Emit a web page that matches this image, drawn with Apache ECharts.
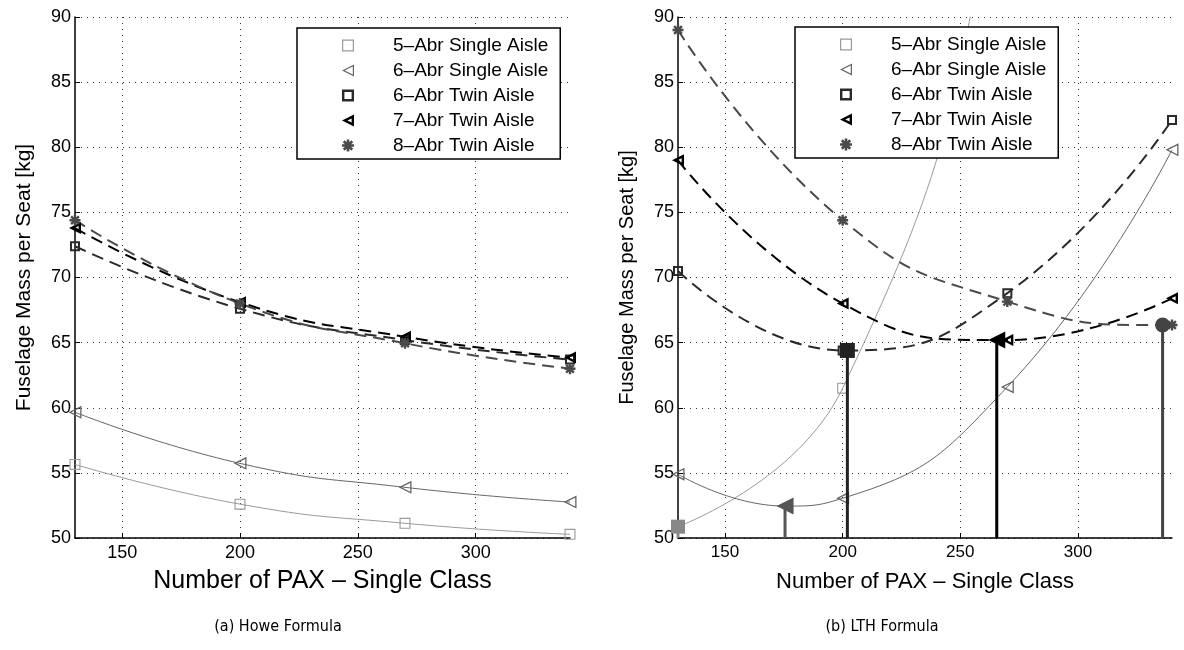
<!DOCTYPE html>
<html><head><meta charset="utf-8">
<script src="https://cdn.jsdelivr.net/npm/echarts@6/dist/echarts.min.js"></script>
<style>html,body{margin:0;padding:0;background:#fff}#c{width:1184px;height:650px}</style>
</head><body><div id="c"></div>
<script>
// ---------- data ----------
const pax = [130, 200, 270, 340];
const seriesNames = ['5\u2013Abr Single Aisle', '6\u2013Abr Single Aisle', '6\u2013Abr Twin Aisle', '7\u2013Abr Twin Aisle', '8\u2013Abr Twin Aisle'];
// (a) Howe formula
const howe5SA = [55.65, 52.6, 51.13, 50.28];
const howe6SA = [59.65, 55.73, 53.89, 52.76];
const howe6TA = [72.4, 67.6, 65.2, 63.7];
const howe7TA = [73.8, 68.1, 65.45, 63.85];
const howe8TA = [74.4, 68.0, 64.95, 63.0];
// (b) LTH formula
const lth5SA = [50.87, 61.5, 104, 178];
const lth6SA = [54.9, 53.05, 61.6, 79.8];
const lth6TA = [70.5, 64.4, 68.8, 82.1];
const lth7TA = [79.0, 68.0, 65.2, 68.4];
const lth8TA = [89.0, 74.4, 68.15, 66.35];
// LTH minima (stems, also points of the fitted curves)
const minPax  = [130, 175.5, 202, 265.5, 336];
const minMass = [50.87, 52.45, 64.4, 65.2, 66.35];
// axes
const xTicks = [150, 200, 250, 300];
const xMin = 130, xMax = 340;
const yMin = 50, yMax = 90, yStep = 5;
const captions = ['(a) Howe Formula', '(b) LTH Formula'];
const yName = 'Fuselage Mass per Seat [kg]';
const xName = 'Number of PAX \u2013 Single Class';

// ---------- symbols ----------
const SQ_THIN = 'path://M0,0L10,0L10,10L0,10Z M1,1L1,9L9,9L9,1Z';
const SQ_THICK = 'path://M0,0L10,0L10,10L0,10Z M2,2L2,8L8,8L8,2Z';
const TRI_THIN = 'path://M0,5L10,0L10,10Z M2.24,5L9,8.38L9,1.62Z';
const TRI_THICK = 'path://M0,5L10,0L10,10Z M4.47,5L8,6.76L8,3.24Z';
const ASTER = 'path://M-5,-1.1L5,-1.1L5,1.1L-5,1.1Z M-1.1,-5L1.1,-5L1.1,5L-1.1,5Z M-2.76,-4.31L4.31,2.76L2.76,4.31L-4.31,-2.76Z M-4.31,2.76L2.76,-4.31L4.31,-2.76L-2.76,4.31Z';
const TRI_FILL = 'path://M0,5L10,0L10,10Z';
const SQ_FILL = 'path://M0,0L10,0L10,10L0,10Z';

const DASH = [12, 7];
const styles = [
  {color: '#9a9a9a', type: 'solid', width: 1, symbol: SQ_THIN, size: 11},
  {color: '#666666', type: 'solid', width: 1, symbol: TRI_THIN, size: 13},
  {color: '#2a2a2a', type: DASH, width: 2, symbol: SQ_THICK, size: 10},
  {color: '#000000', type: DASH, width: 2, symbol: TRI_THICK, size: 12},
  {color: '#4a4a4a', type: DASH, width: 2, symbol: ASTER, size: 11}
];
const stemStyles = [
  {color: '#888888', symbol: SQ_FILL, size: 14},
  {color: '#555555', symbol: TRI_FILL, size: 17},
  {color: '#222222', symbol: SQ_FILL, size: 15},
  {color: '#000000', symbol: TRI_FILL, size: 17},
  {color: '#444444', symbol: 'circle', size: 15}
];

const howe = [howe5SA, howe6SA, howe6TA, howe7TA, howe8TA];
const lth = [lth5SA, lth6SA, lth6TA, lth7TA, lth8TA];

const FONT = "'Liberation Sans', Arial, Helvetica, sans-serif";
const CAPFONT = "'Liberation Sans Narrow', 'DejaVu Sans Condensed', sans-serif";

function curveSeries(vals, i, gi, extra) {
  const s = styles[i];
  let pts = pax.map((x, k) => ({value: [x, vals[k]]}));
  if (extra && pax.indexOf(extra[0]) < 0) {
    pts.push({value: extra, symbol: 'none'});
    pts.sort((a, b) => a.value[0] - b.value[0]);
  }
  return {
    type: 'line', name: seriesNames[i], xAxisIndex: gi, yAxisIndex: gi,
    data: pts,
    smooth: 0.5, clip: true,
    symbol: s.symbol, symbolSize: s.size,
    lineStyle: {color: s.color, width: s.width, type: s.type},
    itemStyle: {color: s.color, borderWidth: 0},
    z: 3
  };
}

const series = [];
howe.forEach((v, i) => series.push(curveSeries(v, i, 0, null)));
lth.forEach((v, i) => series.push(curveSeries(v, i, 1, [minPax[i], minMass[i]])));
minPax.forEach((x, i) => {
  const s = stemStyles[i];
  series.push({
    type: 'line', name: 'min' + i, xAxisIndex: 1, yAxisIndex: 1,
    data: [[x, yMin], [x, minMass[i]]],
    symbol: (val, p) => p.dataIndex === 1 ? s.symbol : 'none',
    symbolSize: s.size,
    lineStyle: {color: s.color, width: 3},
    itemStyle: {color: s.color},
    z: 4
  });
});

function xAxis(gi, nameSize, labelSize, gap) {
  return {
    type: 'value', gridIndex: gi, min: xMin, max: xMax,
    name: xName, nameLocation: 'middle', nameGap: gap,
    nameTextStyle: {fontSize: nameSize, fontFamily: FONT, color: '#000'},
    axisLine: {show: true, lineStyle: {color: '#000', width: 1.5}},
    axisTick: {show: true, inside: true, length: 5, customValues: xTicks, lineStyle: {color: '#000'}},
    axisLabel: {customValues: xTicks, fontSize: labelSize, fontFamily: FONT, color: '#000', margin: 6},
    splitLine: {show: true, lineStyle: {color: '#333', type: [1, 5], width: 1}}
  };
}
function yAxis(gi, nameSize, labelSize, gap) {
  return {
    type: 'value', gridIndex: gi, min: yMin, max: yMax, interval: yStep,
    name: yName, nameLocation: 'middle', nameGap: gap, nameRotate: 90,
    nameTextStyle: {fontSize: nameSize, fontFamily: FONT, color: '#000'},
    axisLine: {show: true, lineStyle: {color: '#000', width: 1.5}},
    axisTick: {show: true, inside: true, length: 5, lineStyle: {color: '#000'}},
    axisLabel: {fontSize: labelSize, fontFamily: FONT, color: '#000', margin: 4},
    splitLine: {show: true, lineStyle: {color: '#333', type: [1, 5], width: 1}}
  };
}
function legend(left, top) {
  return {
    left: left, top: top, orient: 'vertical',
    data: seriesNames,
    itemWidth: 80, itemHeight: 15, itemGap: 6,
    padding: [8, 12, 4, 10],
    backgroundColor: '#fff', borderColor: '#000', borderWidth: 1.5, borderRadius: 0,
    lineStyle: {opacity: 0},
    textStyle: {fontSize: 19, fontFamily: FONT, color: '#000'},
    selectedMode: false
  };
}

const option = {
  animation: false,
  backgroundColor: '#fff',
  grid: [
    {left: 75, top: 17, width: 495, height: 521},
    {left: 678, top: 17, width: 494, height: 521}
  ],
  xAxis: [xAxis(0, 25, 18, 31), xAxis(1, 22, 17, 33)],
  yAxis: [yAxis(0, 21, 18, 40), yAxis(1, 20, 18, 41)],
  legend: [legend(297, 28), legend(795, 27)],
  title: [
    {text: captions[0], left: 273, top: 614, textAlign: 'center',
     textStyle: {fontSize: 16, fontWeight: 'normal', fontFamily: CAPFONT, color: '#000'}},
    {text: captions[1], left: 877, top: 614, textAlign: 'center',
     textStyle: {fontSize: 16, fontWeight: 'normal', fontFamily: CAPFONT, color: '#000'}}
  ],
  series: series
};
const chart = echarts.init(document.getElementById('c'), null, {renderer: 'canvas'});
chart.setOption(option);
</script>
</body></html>
